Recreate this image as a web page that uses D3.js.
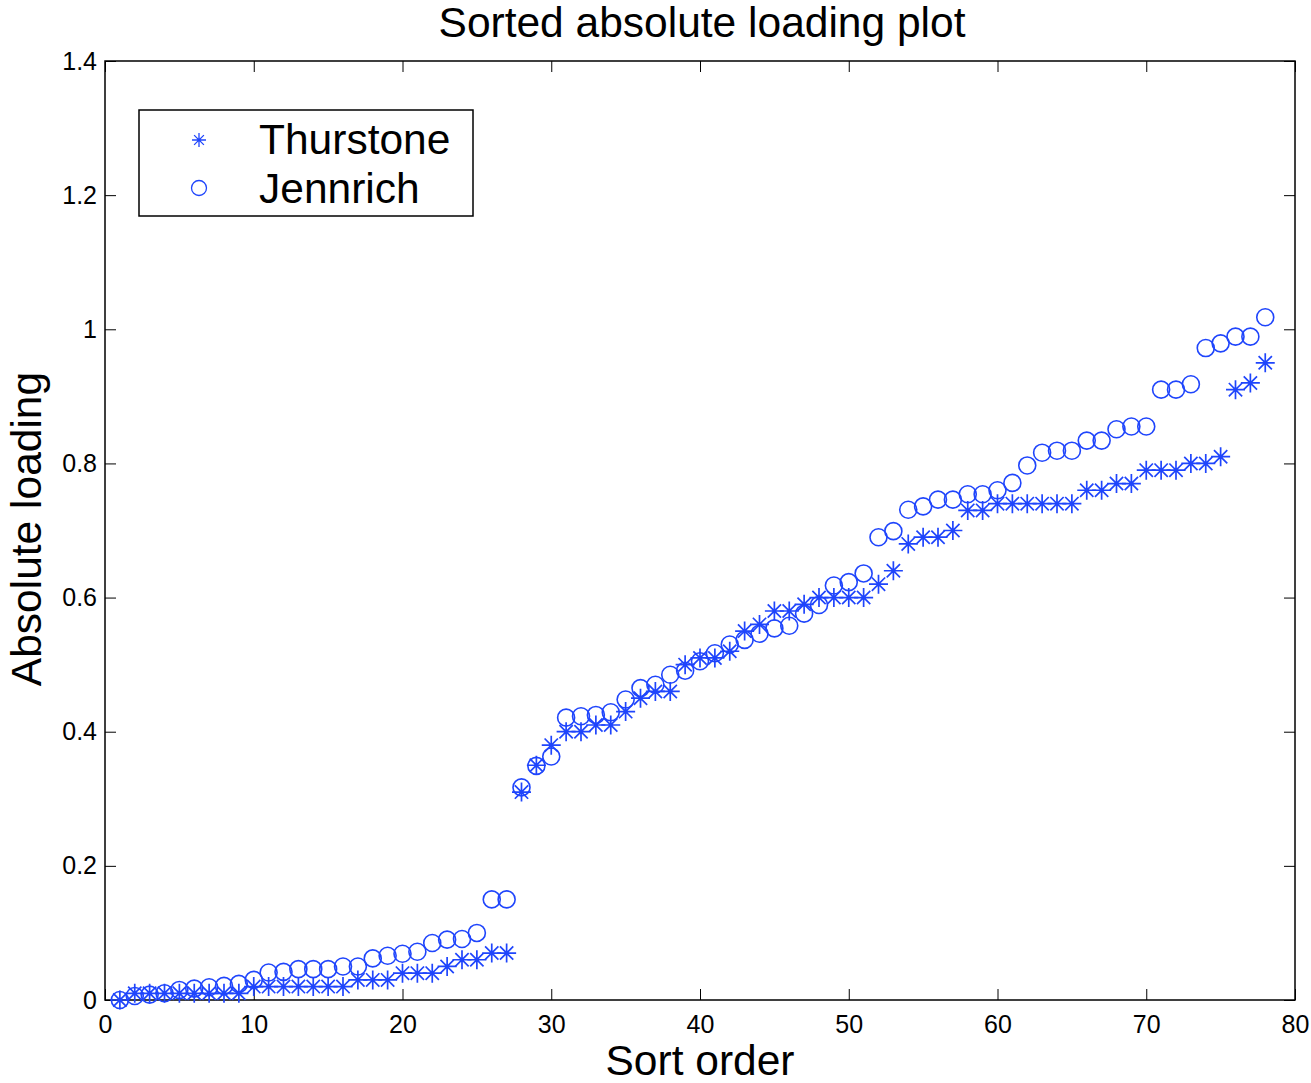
<!DOCTYPE html>
<html>
<head>
<meta charset="utf-8">
<script src="https://cdn.jsdelivr.net/npm/d3@7"></script>
<style>
  html, body { margin: 0; padding: 0; background: #fff; }
  svg text { font-family: "Liberation Sans", Arial, Helvetica, sans-serif; fill: #000; }
</style>
</head>
<body>
<div id="chart"></div>
<script>
// values, index 1..78
var thurstone = [0, 0.01, 0.01, 0.01, 0.01, 0.01, 0.01, 0.01, 0.01, 0.02,
  0.02, 0.02, 0.02, 0.02, 0.02, 0.02, 0.03, 0.03, 0.03, 0.04,
  0.04, 0.04, 0.05, 0.06, 0.06, 0.07, 0.07, 0.31, 0.35, 0.38,
  0.40, 0.40, 0.41, 0.41, 0.43, 0.45, 0.46, 0.46, 0.50, 0.51,
  0.51, 0.52, 0.55, 0.56, 0.58, 0.58, 0.59, 0.60, 0.60, 0.60,
  0.60, 0.62, 0.64, 0.68, 0.69, 0.69, 0.70, 0.73, 0.73, 0.74,
  0.74, 0.74, 0.74, 0.74, 0.74, 0.76, 0.76, 0.77, 0.77, 0.79,
  0.79, 0.79, 0.80, 0.80, 0.81, 0.91, 0.92, 0.95];

var jennrich = [0, 0.006, 0.008, 0.01, 0.015, 0.017, 0.019, 0.021, 0.024, 0.03,
  0.041, 0.042, 0.046, 0.046, 0.046, 0.05, 0.05, 0.062, 0.066, 0.069,
  0.072, 0.085, 0.09, 0.091, 0.1, 0.15, 0.15, 0.317, 0.349, 0.363,
  0.421, 0.423, 0.425, 0.429, 0.448, 0.465, 0.47, 0.485, 0.491, 0.505,
  0.517, 0.53, 0.537, 0.546, 0.554, 0.558, 0.576, 0.589, 0.618, 0.623,
  0.636, 0.69, 0.699, 0.731, 0.736, 0.746, 0.746, 0.754, 0.754, 0.76,
  0.771, 0.797, 0.816, 0.819, 0.819, 0.834, 0.834, 0.851, 0.855, 0.855,
  0.91, 0.91, 0.918, 0.972, 0.979, 0.989, 0.989, 1.018];

var xTicks = [0, 10, 20, 30, 40, 50, 60, 70, 80];
var yTicks = [0, 0.2, 0.4, 0.6, 0.8, 1, 1.2, 1.4];
var yTickLabels = ["0", "0.2", "0.4", "0.6", "0.8", "1", "1.2", "1.4"];
var seriesNames = ["Thurstone", "Jennrich"];

var W = 1311, H = 1083;
var margin = {top: 61, right: 16, bottom: 83, left: 105};
var width = W - margin.left - margin.right;
var height = H - margin.top - margin.bottom;
var blue = "#1f45fc";
var bigFont = "42.5px";

var svg = d3.select("#chart").append("svg")
  .attr("width", W).attr("height", H);

var g = svg.append("g")
  .attr("transform", "translate(" + margin.left + "," + margin.top + ")");

var x = d3.scaleLinear().domain([0, 80]).range([0, width]);
var y = d3.scaleLinear().domain([0, 1.4]).range([height, 0]);

// axes with inward ticks on all four sides
function styleAxis(sel) {
  sel.select(".domain").remove();
  sel.selectAll(".tick line").attr("stroke", "#000").attr("stroke-width", 1);
  sel.selectAll(".tick text").style("font-size", "25px");
}

g.append("g")
  .attr("transform", "translate(0," + height + ")")
  .call(d3.axisBottom(x).tickValues(xTicks).tickSizeInner(-11).tickSizeOuter(0).tickPadding(15))
  .call(styleAxis);

g.append("g")
  .call(d3.axisTop(x).tickValues(xTicks).tickSizeInner(-11).tickSizeOuter(0).tickFormat(""))
  .call(styleAxis);

g.append("g")
  .call(d3.axisLeft(y).tickValues(yTicks).tickSizeInner(-11).tickSizeOuter(0).tickPadding(8)
    .tickFormat(function (d, i) { return yTickLabels[i]; }))
  .call(styleAxis);

g.append("g")
  .attr("transform", "translate(" + width + ",0)")
  .call(d3.axisRight(y).tickValues(yTicks).tickSizeInner(-11).tickSizeOuter(0).tickFormat(""))
  .call(styleAxis);

g.append("rect")
  .attr("width", width).attr("height", height)
  .attr("fill", "none").attr("stroke", "#000").attr("stroke-width", 1.5);

// asterisk marker: + and x combined
function asterisk(r) {
  var d = r * 0.7;
  return "M" + (-r) + ",0H" + r + "M0," + (-r) + "V" + r +
    "M" + (-d) + "," + (-d) + "L" + d + "," + d +
    "M" + (-d) + "," + d + "L" + d + "," + (-d);
}

g.append("g").selectAll("path")
  .data(thurstone)
  .enter().append("path")
  .attr("transform", function (d, i) { return "translate(" + x(i + 1) + "," + y(d) + ")"; })
  .attr("d", asterisk(9.5))
  .attr("fill", "none").attr("stroke", blue).attr("stroke-width", 1.7);

g.append("g").selectAll("circle")
  .data(jennrich)
  .enter().append("circle")
  .attr("cx", function (d, i) { return x(i + 1); })
  .attr("cy", function (d) { return y(d); })
  .attr("r", 8.5)
  .attr("fill", "none").attr("stroke", blue).attr("stroke-width", 1.6);

// title and axis labels
svg.append("text")
  .attr("x", 702).attr("y", 37)
  .attr("text-anchor", "middle")
  .style("font-size", bigFont)
  .text("Sorted absolute loading plot");

svg.append("text")
  .attr("x", 700).attr("y", 1075)
  .attr("text-anchor", "middle")
  .style("font-size", bigFont)
  .text("Sort order");

svg.append("text")
  .attr("transform", "translate(41," + 529 + ") rotate(-90)")
  .attr("text-anchor", "middle")
  .style("font-size", bigFont)
  .text("Absolute loading");

// legend
var legend = svg.append("g").attr("transform", "translate(139,110)");
legend.append("rect")
  .attr("width", 334).attr("height", 106)
  .attr("fill", "#fff").attr("stroke", "#000").attr("stroke-width", 1.5);

legend.append("path")
  .attr("transform", "translate(60,30)")
  .attr("d", asterisk(7))
  .attr("fill", "none").attr("stroke", blue).attr("stroke-width", 1.3);

legend.append("circle")
  .attr("cx", 60).attr("cy", 78).attr("r", 7.5)
  .attr("fill", "none").attr("stroke", blue).attr("stroke-width", 1.3);

legend.selectAll("text.lbl")
  .data(seriesNames)
  .enter().append("text")
  .attr("class", "lbl")
  .attr("x", 120)
  .attr("y", function (d, i) { return 44 + i * 49; })
  .style("font-size", bigFont)
  .text(function (d) { return d; });
</script>
</body>
</html>
